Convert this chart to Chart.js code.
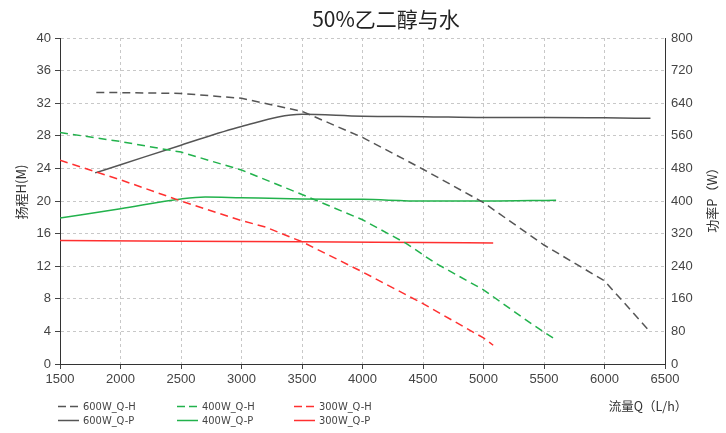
<!DOCTYPE html>
<html><head><meta charset="utf-8">
<script src="https://cdn.jsdelivr.net/npm/chart.js@4.4.1/dist/chart.umd.min.js"></script>
<style>html,body{margin:0;padding:0;background:#fff;} #wrap{width:726px;height:433px;}</style>
</head><body><div id="wrap"><canvas id="c" width="726" height="433"></canvas></div>
<script>
const titleText = '50%乙二醇与水';
const xTitle = '流量Q（L/h）';
const yLeftTitle = '扬程H(M)';
const yRightTitle = '功率P（W）';
const seriesLabels = ['600W_Q-H','400W_Q-H','300W_Q-H','600W_Q-P','400W_Q-P','300W_Q-P'];

const xTicks = [1500,2000,2500,3000,3500,4000,4500,5000,5500,6000,6500];
const yLeftTicks = [0,4,8,12,16,20,24,28,32,36,40];
const yRightTicks = [0,80,160,240,320,400,480,560,640,720,800];

const q600H = [1800,2000,2500,3000,3500,4000,4500,5000,5500,6000,6380];
const h600  = [33.3,33.3,33.2,32.6,31.0,27.8,23.9,19.8,14.6,10.2,3.9];
const q400H = [1500,2000,2500,3000,3500,4000,4360,4600,5000,5400,5605];
const h400  = [28.4,27.3,26.0,23.8,20.8,17.7,14.8,12.4,9.1,4.9,2.9];
const q300H = [1500,2000,2500,3000,3200,3500,4000,4500,5000,5080];
const h300  = [25.0,22.6,20.0,17.6,16.8,15.0,11.3,7.4,3.2,2.3];
const q600P = [1790,2000,2500,3000,3500,4000,4500,5000,5500,6000,6380];
const p600  = [469,489,537,583,613,608,607,605,605,604,603];
const q400P = [1500,2000,2500,2700,3000,3500,4000,4500,5000,5600];
const p400  = [358,381,405,410,408,405,404,400,400,402];
const q300P = [1500,2500,3500,4500,5080];
const p300  = [303,301,300,298,297];

const GRAY = '#555555', GREEN = '#22b24c', RED = '#ff3030';
const pts = (xs, ys) => xs.map((x, i) => ({x, y: ys[i]}));

function ds(label, xs, ys, color, dashed, axis) {
  return {
    label, data: pts(xs, ys), borderColor: color, backgroundColor: color,
    borderWidth: 1.5, borderDash: dashed ? [8,5] : [], pointRadius: 0,
    yAxisID: axis, cubicInterpolationMode: dashed ? 'default' : 'monotone',
    tension: dashed ? 0 : 0.4, fill: false
  };
}

const datasets = [
  ds(seriesLabels[0], q600H, h600, GRAY, true, 'y'),
  ds(seriesLabels[1], q400H, h400, GREEN, true, 'y'),
  ds(seriesLabels[2], q300H, h300, RED, true, 'y'),
  ds(seriesLabels[3], q600P, p600, GRAY, false, 'y1'),
  ds(seriesLabels[4], q400P, p400, GREEN, false, 'y1'),
  ds(seriesLabels[5], q300P, p300, RED, false, 'y1')
];

const decor = {
  id: 'decor',
  afterDraw(chart) {
    const ctx = chart.ctx;
    ctx.save();
    ctx.fillStyle = '#222';
    ctx.textAlign = 'center'; ctx.textBaseline = 'middle';
    ctx.font = '21px "Noto Sans CJK SC"';
    ctx.fillText(titleText, 386, 19);
    ctx.fillStyle = '#333';
    ctx.font = '13px "Noto Sans CJK SC"';
    ctx.save(); ctx.translate(21, 192); ctx.rotate(-Math.PI/2); ctx.fillText(yLeftTitle, 0, 0); ctx.restore();
    ctx.save(); ctx.translate(712, 197); ctx.rotate(-Math.PI/2); ctx.fillText(yRightTitle, 0, 0); ctx.restore();
    ctx.font = '12.5px "Noto Sans CJK SC"';
    ctx.fillText(xTitle, 648, 406);
    // legend
    const cols = [58, 177, 294], rows = [406, 420];
    ctx.font = '11px "DejaVu Sans Condensed", "DejaVu Sans", sans-serif';
    ctx.textAlign = 'left';
    chart.data.datasets.forEach((d, i) => {
      const x = cols[i % 3], y = rows[Math.floor(i / 3)];
      ctx.save();
      ctx.strokeStyle = d.borderColor; ctx.lineWidth = 1.5;
      ctx.setLineDash(d.borderDash.length ? [8,4] : []);
      ctx.beginPath(); ctx.moveTo(x, y + 0.5); ctx.lineTo(x + 21, y + 0.5); ctx.stroke();
      ctx.restore();
      ctx.fillStyle = '#444';
      ctx.fillText(d.label, x + 25, y + 1);
    });
    ctx.restore();
  }
};

const tickFont = {family: '"Liberation Sans", Arial, sans-serif', size: 13};
const gridCfg = {color: '#c8c8c8', tickColor: '#444', tickLength: 5};
const borderCfg = {color: '#333', dash: [3,3], width: 1};

new Chart(document.getElementById('c'), {
  type: 'line',
  data: {datasets},
  plugins: [decor],
  options: {
    responsive: false, animation: false, devicePixelRatio: 1,
    layout: {padding: {top: 38, bottom: 44, left: 0, right: 0}},
    plugins: {legend: {display: false}, title: {display: false}, tooltip: {enabled: false}},
    scales: {
      x: {
        type: 'linear', min: xTicks[0], max: xTicks[xTicks.length-1],
        afterBuildTicks: s => { s.ticks = xTicks.map(v => ({value: v})); },
        ticks: {font: tickFont, color: '#444', padding: 3, maxRotation: 0, callback: v => String(v)},
        grid: gridCfg, border: borderCfg,
        afterFit: s => { s.height = 25; }
      },
      y: {
        position: 'left', min: 0, max: 40,
        afterBuildTicks: s => { s.ticks = yLeftTicks.map(v => ({value: v})); },
        ticks: {font: tickFont, color: '#444', padding: 4, callback: v => String(v)},
        grid: gridCfg, border: borderCfg,
        afterFit: s => { s.width = 60; }
      },
      y1: {
        position: 'right', min: 0, max: 800,
        afterBuildTicks: s => { s.ticks = yRightTicks.map(v => ({value: v})); },
        ticks: {font: tickFont, color: '#444', padding: 6, callback: v => String(v)},
        grid: {drawOnChartArea: false, drawTicks: false},
        border: {color: '#333', width: 1},
        afterFit: s => { s.width = 61; }
      }
    }
  }
});
</script>
</body></html>
